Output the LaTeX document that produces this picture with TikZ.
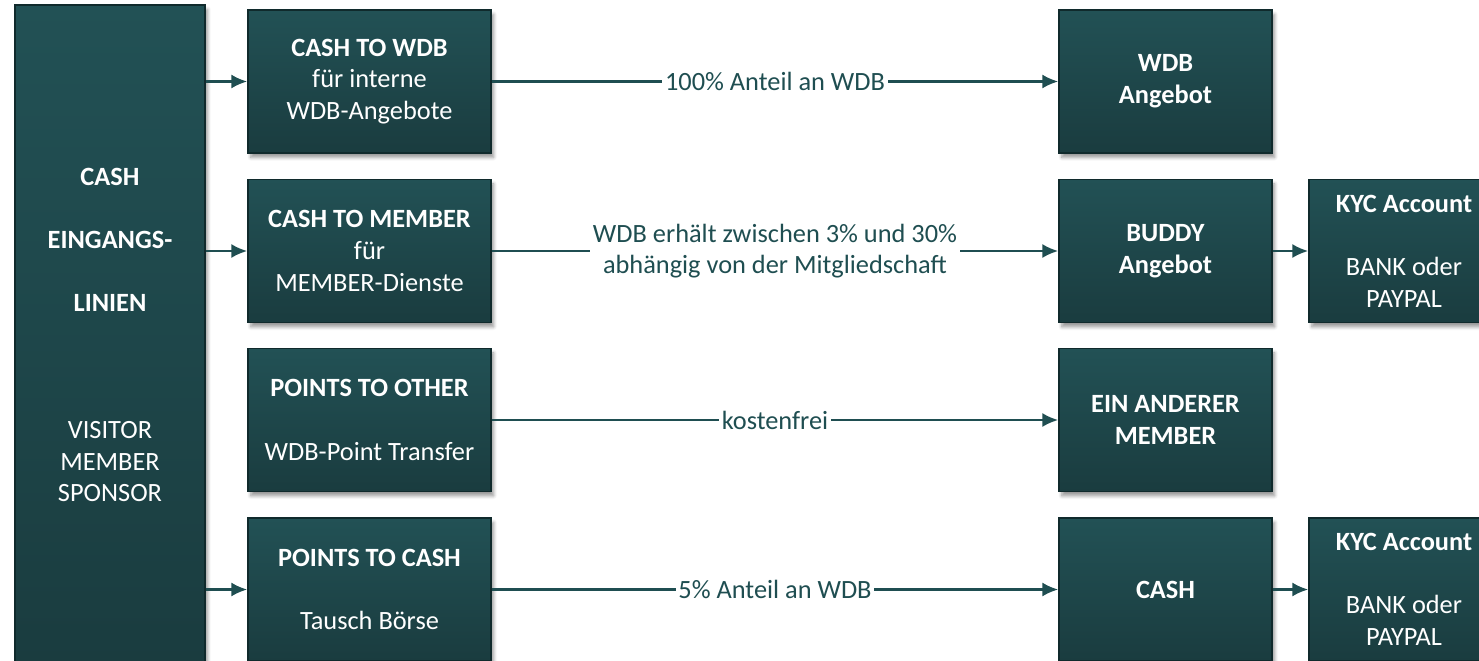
\documentclass[tikz,border=0pt]{standalone}
\usepackage{fontspec}
\setmainfont{Carlito}
\usetikzlibrary{arrows.meta,shadows.blur}

\definecolor{BoxTop}{HTML}{225155}
\definecolor{BoxBottom}{HTML}{1A3C3F}
\definecolor{BoxBorder}{HTML}{102A2C}
\definecolor{LineColor}{HTML}{1F4E51}
\tikzstyle{base}=[rectangle,
                    draw=BoxBorder,
                    line width=1pt,
                    top color=BoxTop,
                    bottom color=BoxBottom,
                    text=white,
                    inner sep=0pt,
                    align=center,
                    font=\fontsize{15}{18}\selectfont,
                    blur shadow={shadow xshift=1.5pt, shadow yshift=-2.5pt, shadow blur steps=5}]
\tikzstyle{source}=[base, minimum width=3.8cm, minimum height=13.2cm]
\tikzstyle{offer}=[base, minimum width=4.86cm, minimum height=2.86cm]
\tikzstyle{target}=[base, minimum width=4.26cm, minimum height=2.86cm]
\tikzstyle{account}=[base, minimum width=3.8cm, minimum height=2.86cm]
\tikzstyle{flow}=[draw=LineColor, line width=1.2pt, -{Latex[length=9pt,width=8pt]}]
\tikzstyle{share}=[fill=white, text=LineColor, inner sep=1.5pt, align=center,
                    font=\fontsize{15}{18}\selectfont]

\begin{document}
\begin{tikzpicture}
    \useasboundingbox (0,0) rectangle (29.58,-13.22);

      \node at ( 2.20,  -6.70) (inflow)       [source]  {\textbf{CASH}\\[18pt]\textbf{EINGANGS-}\\[18pt]\textbf{LINIEN}\\[54pt]VISITOR\\MEMBER\\SPONSOR};

      \node at ( 7.39,  -1.63) (cash_wdb)     [offer]   {\textbf{CASH TO WDB}\\für interne\\WDB-Angebote};
      \node at ( 7.39,  -5.02) (cash_member)  [offer]   {\textbf{CASH TO MEMBER}\\für\\MEMBER-Dienste};
      \node at ( 7.39,  -8.40) (points_other) [offer]   {\textbf{POINTS TO OTHER}\\[18pt]WDB-Point Transfer};
      \node at ( 7.39, -11.79) (points_cash)  [offer]   {\textbf{POINTS TO CASH}\\[18pt]Tausch Börse};

      \node at (23.31,  -1.63) (wdb_offer)    [target]  {\textbf{WDB}\\\textbf{Angebot}};
      \node at (23.31,  -5.02) (buddy_offer)  [target]  {\textbf{BUDDY}\\\textbf{Angebot}};
      \node at (23.31,  -8.40) (other_member) [target]  {\textbf{EIN ANDERER}\\\textbf{MEMBER}};
      \node at (23.31, -11.79) (cash_out)     [target]  {\textbf{CASH}};

      \node at (28.08,  -5.02) (kyc_buddy)    [account] {\textbf{KYC Account}\\[18pt]BANK oder\\PAYPAL};
      \node at (28.08, -11.79) (kyc_cash)     [account] {\textbf{KYC Account}\\[18pt]BANK oder\\PAYPAL};

      \draw[flow] (inflow.east |- cash_wdb)    -- (cash_wdb);
      \draw[flow] (inflow.east |- cash_member) -- (cash_member);
      \draw[flow] (inflow.east |- points_cash) -- (points_cash);

      \draw[flow] (cash_wdb)     -- node[share] {100\% Anteil an WDB} (wdb_offer);
      \draw[flow] (cash_member)  -- node[share] {WDB erhält zwischen 3\% und 30\%\\abhängig von der Mitgliedschaft} (buddy_offer);
      \draw[flow] (points_other) -- node[share] {kostenfrei} (other_member);
      \draw[flow] (points_cash)  -- node[share] {5\% Anteil an WDB} (cash_out);

      \draw[flow] (buddy_offer) -- (kyc_buddy);
      \draw[flow] (cash_out)    -- (kyc_cash);
\end{tikzpicture}
\end{document}
